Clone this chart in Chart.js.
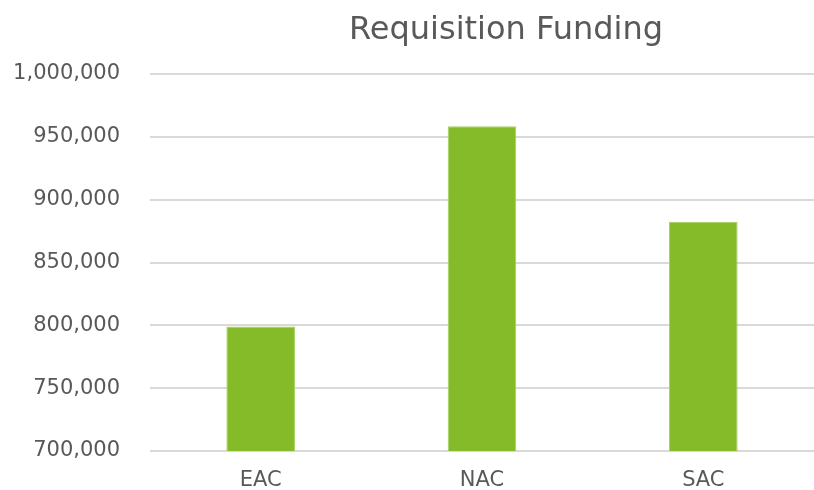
<!DOCTYPE html>
<html>
<head>
<meta charset="utf-8">
<script src="https://cdn.jsdelivr.net/npm/chart.js@4/dist/chart.umd.min.js"></script>
<style>
  html, body { margin: 0; padding: 0; background: #ffffff; }
  #wrap { position: relative; width: 814px; height: 490px; }
  #title {
    position: absolute; left: 506px; top: 12px; transform: translateX(-50%);
    font-family: "DejaVu Sans", sans-serif; font-size: 32px; line-height: 32px;
    color: #595959; white-space: nowrap;
  }
</style>
</head>
<body>
<div id="wrap">
  <div id="title">Requisition Funding</div>
  <canvas id="fundingChart" width="814" height="490"></canvas>
</div>
<script>
const categories = ['EAC', 'NAC', 'SAC'];
const funding = [799000, 958500, 882500];
const yTicks = [700000, 750000, 800000, 850000, 900000, 950000, 1000000];

document.addEventListener('DOMContentLoaded', function() {
    const ctx = document.getElementById('fundingChart').getContext('2d');
    const tickFont = { family: 'DejaVu Sans', size: 21 };

    new Chart(ctx, {
        type: 'bar',
        data: {
            labels: categories,
            datasets: [{
                label: 'Requisition Funding',
                data: funding,
                backgroundColor: '#85bb28',
                borderColor: '#a6d063',
                borderWidth: 1,
                categoryPercentage: 1,
                barPercentage: 0.31
            }]
        },
        options: {
            responsive: false,
            animation: false,
            layout: { padding: { top: 74, left: 12, right: 0, bottom: 0 } },
            plugins: {
                legend: { display: false },
                tooltip: { enabled: false },
                title: { display: false }
            },
            scales: {
                y: {
                    min: yTicks[0],
                    max: yTicks[yTicks.length - 1],
                    afterBuildTicks: function(scale) {
                        scale.ticks = yTicks.map(v => ({ value: v }));
                    },
                    // fixed width, and no extra room reserved above/below the axis
                    afterFit: function(scale) {
                        scale.width = 138;
                        scale.paddingTop = 0;
                        scale.paddingBottom = 0;
                    },
                    border: { display: false },
                    grid: { color: '#d9d9d9', lineWidth: 2, drawTicks: false },
                    ticks: {
                        color: '#595959',
                        font: tickFont,
                        padding: 30,
                        callback: function(value) {
                            return Number(value).toLocaleString('en-US');
                        }
                    }
                },
                x: {
                    afterFit: function(scale) { scale.height = 39; },
                    border: { display: false },
                    grid: { display: false, drawTicks: false },
                    ticks: {
                        color: '#595959',
                        font: { family: 'DejaVu Sans', size: 21, lineHeight: 1 },
                        padding: 19
                    }
                }
            }
        }
    });
});
</script>
</body>
</html>
